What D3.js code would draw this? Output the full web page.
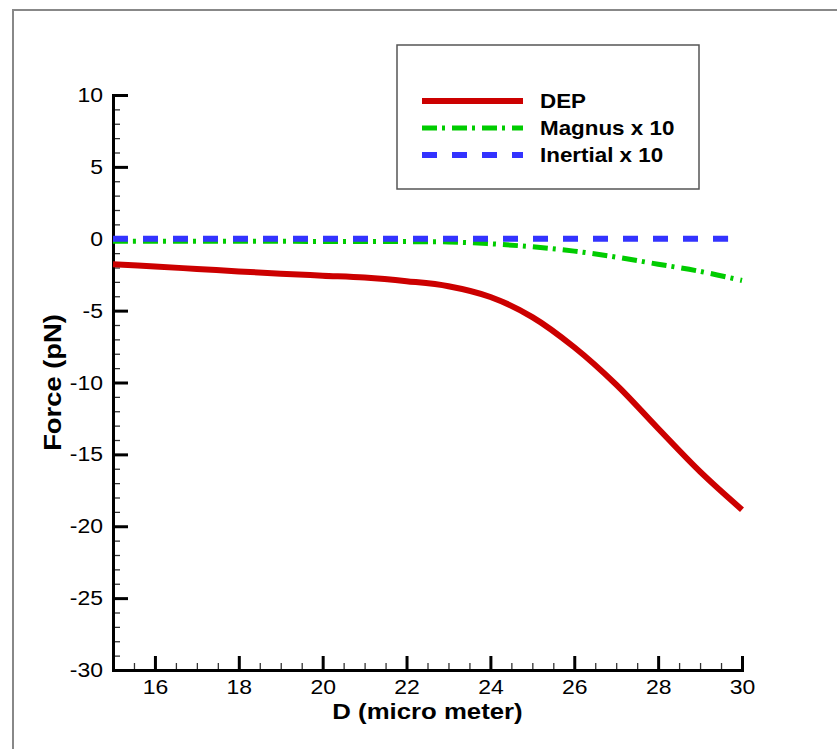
<!DOCTYPE html>
<html>
<head>
<meta charset="utf-8">
<script src="https://cdn.jsdelivr.net/npm/d3@7"></script>
<style>
  body { margin: 0; background: #fff; }
  text { font-family: "Liberation Sans", Arial, Helvetica, sans-serif; }
</style>
</head>
<body>
<svg id="chart" width="837" height="749"></svg>
<script>
// data
const diameters = [15, 16, 17, 18, 19, 20, 21, 22, 23, 24, 25, 26, 27, 28, 29, 30]
const depForce = [-1.78, -1.93, -2.1, -2.27, -2.43, -2.57, -2.7, -2.95, -3.3, -4.05, -5.45, -7.55, -10.15, -13.2, -16.2, -18.85]
const magnusForce = [-0.17, -0.17, -0.18, -0.18, -0.18, -0.19, -0.19, -0.2, -0.22, -0.35, -0.56, -0.86, -1.28, -1.77, -2.27, -2.9]
const inertialForce = [0, 0, 0, 0, 0, 0, 0, 0, 0, 0, 0, 0, 0, 0, 0, 0]
const xTicks = [16, 18, 20, 22, 24, 26, 28, 30]
const yTicks = [10, 5, 0, -5, -10, -15, -20, -25, -30]
const seriesNames = ['DEP', 'Magnus x 10', 'Inertial x 10']

const svg = d3.select('#chart')
const margin = { top: 95, right: 95, bottom: 79, left: 113 }
const width = +svg.attr('width') - margin.left - margin.right
const height = +svg.attr('height') - margin.top - margin.bottom
const stretch = 'scale(1.12,1)'

// outer frame
svg.append('rect')
  .attr('x', 13).attr('y', 10)
  .attr('width', 840).attr('height', 760)
  .attr('fill', 'none')
  .attr('stroke', '#888')
  .attr('stroke-width', 2)

const g = svg.append('g').attr('transform', 'translate(' + margin.left + ',' + margin.top + ')')

const x = d3.scaleLinear().domain([15, 30]).range([0, width])
const y = d3.scaleLinear().domain([-30, 10]).range([height, 0])

// minor ticks
g.append('g')
  .attr('class', 'minor')
  .attr('transform', `translate(0, ${height})`)
  .call(d3.axisBottom(x).tickValues(d3.range(15, 30.01, 0.5)).tickSize(-7).tickSizeOuter(0).tickFormat(''))
g.append('g')
  .attr('class', 'minor')
  .call(d3.axisLeft(y).tickValues(d3.range(-30, 10.01, 1)).tickSize(-7).tickSizeOuter(0).tickFormat(''))
g.selectAll('.minor .domain').remove()
g.selectAll('.minor line').attr('stroke', '#333').attr('stroke-width', 1.3)

// major axes
const xAxis = g.append('g')
  .attr('transform', `translate(0, ${height})`)
  .call(d3.axisBottom(x).tickValues(xTicks).tickSize(-14).tickSizeOuter(0).tickPadding(10))
const yAxis = g.append('g')
  .call(d3.axisLeft(y).tickValues(yTicks).tickSize(-15).tickSizeOuter(0).tickPadding(10).tickFormat((d) => String(d)))

;[xAxis, yAxis].forEach((a) => {
  a.select('.domain').attr('stroke', '#000').attr('stroke-width', 3).attr('stroke-linecap', 'square')
  a.selectAll('.tick line').attr('stroke', '#000').attr('stroke-width', 3)
  a.selectAll('.tick text').attr('fill', '#000').attr('font-size', 20.5).attr('font-family', '"Liberation Sans", Arial, sans-serif')
})
xAxis.selectAll('.tick text').attr('dy', '0.68em').attr('transform', stretch)
yAxis.selectAll('.tick text').attr('x', -10 / 1.12).attr('transform', stretch)

// lines
const line = d3.line()
  .x((d) => x(d[0]))
  .y((d) => y(d[1]))
  .curve(d3.curveCatmullRom.alpha(0.5))

const series = [
  { values: depForce, color: '#cc0000', dash: null, w: 6 },
  { values: magnusForce, color: '#00cc00', dash: '15,5,3,7', w: 5 },
  { values: inertialForce, color: '#3333ff', dash: '15,15', w: 6 },
]

series.forEach((s) => {
  g.append('path')
    .datum(diameters.map((d, i) => [d, s.values[i]]))
    .attr('fill', 'none')
    .attr('stroke', s.color)
    .attr('stroke-width', s.w)
    .attr('stroke-dasharray', s.dash)
    .attr('d', line)
})

// axis titles
svg.append('text')
  .attr('transform', `translate(${margin.left + width / 2}, 719) ${stretch}`)
  .attr('text-anchor', 'middle')
  .attr('font-size', 23)
  .attr('font-weight', 'bold')
  .text('D (micro meter)')

svg.append('text')
  .attr('transform', `translate(61, ${margin.top + height / 2}) rotate(-90) scale(1.14,1)`)
  .attr('text-anchor', 'middle')
  .attr('font-size', 24)
  .attr('font-weight', 'bold')
  .text('Force (pN)')

// legend
const legend = svg.append('g')
legend.append('rect')
  .attr('x', 397).attr('y', 45)
  .attr('width', 302).attr('height', 144)
  .attr('fill', '#fff')
  .attr('stroke', '#555')
  .attr('stroke-width', 1.5)

seriesNames.forEach((name, i) => {
  const ly = 101 + i * 27
  legend.append('line')
    .attr('x1', 422).attr('x2', 523)
    .attr('y1', ly).attr('y2', ly)
    .attr('stroke', series[i].color)
    .attr('stroke-width', series[i].w)
    .attr('stroke-dasharray', series[i].dash)
  legend.append('text')
    .attr('transform', `translate(540, ${ly + 7}) ${stretch}`)
    .attr('font-size', 20)
    .attr('font-weight', 'bold')
    .text(name)
})
</script>
</body>
</html>
